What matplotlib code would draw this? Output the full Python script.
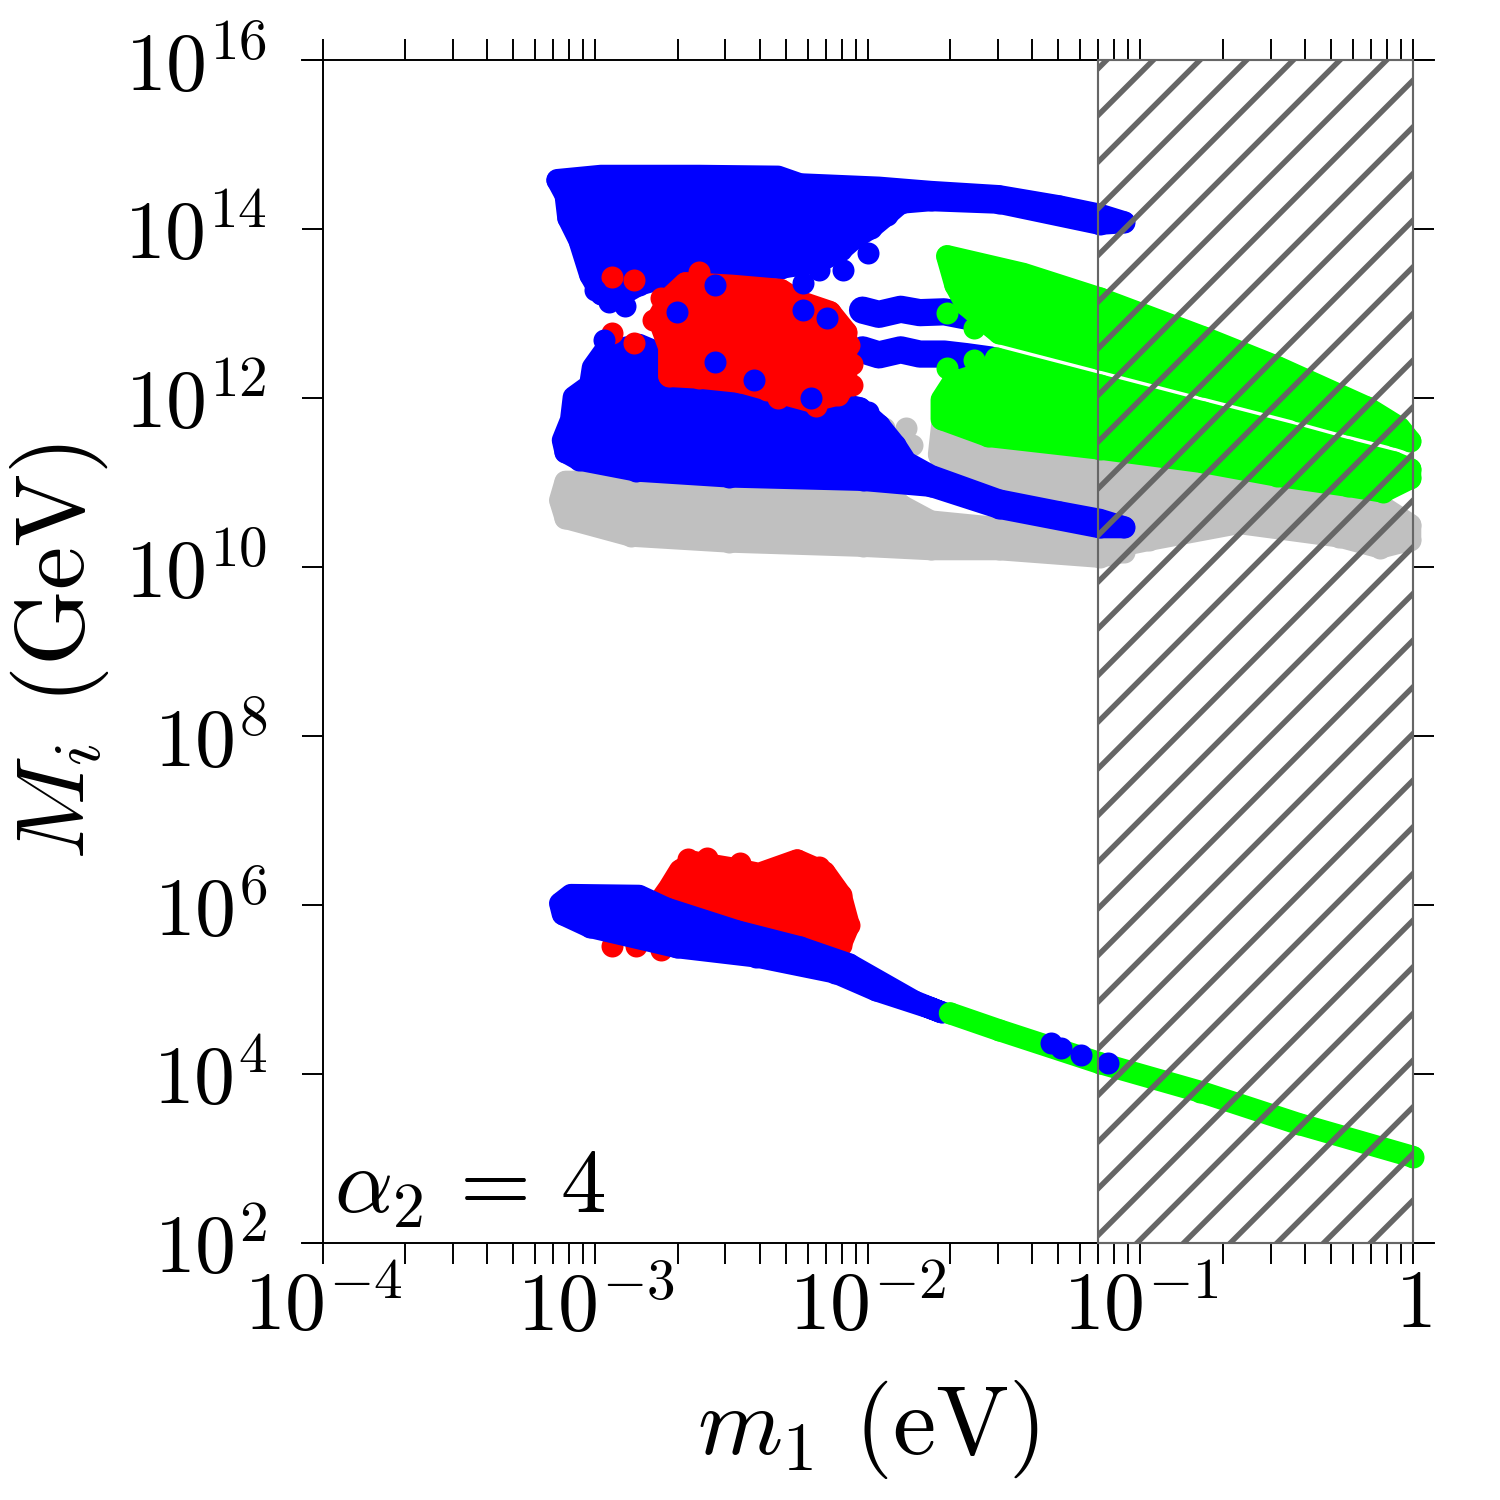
import numpy as np
import matplotlib
matplotlib.use('Agg')
import matplotlib.pyplot as plt

plt.rcParams['font.family'] = 'serif'
plt.rcParams['font.serif'] = ['cmr10']
plt.rcParams['mathtext.fontset'] = 'cm'
plt.rcParams['axes.formatter.use_mathtext'] = True
plt.rcParams['hatch.linewidth'] = 1.4

# all regions below are given as log10(m1 / eV), log10(M_i / GeV),
# outlines traced through the centres of the outermost dots
blue_top_lx = [-3.14, -2.98, -2.62, -2.33, -2.25, -1.96, -1.77, -1.52, -1.30, -1.15, -1.06, -1.15, -1.52, -1.77, -1.88,
               -1.93, -1.99, -2.05, -2.10, -2.18, -2.32, -2.62, -2.84, -2.91, -2.98, -3.02, -3.06, -3.10, -3.11]
blue_top_ly = [14.58, 14.63, 14.63, 14.62, 14.53, 14.49, 14.44, 14.39, 14.27, 14.17, 14.08, 14.06, 14.31, 14.34, 14.31,
               14.17, 14.01, 13.89, 13.75, 13.61, 13.54, 13.54, 13.34, 13.21, 13.23, 13.46, 13.87, 14.13, 14.40]

stripe_lx = [-2.02, -1.96, -1.88, -1.81, -1.72, -1.64, -1.55]
stripe_up_ly = [13.04, 12.99, 13.05, 13.01, 13.02, 12.97, 12.95]
stripe_lo_ly = [12.57, 12.51, 12.57, 12.52, 12.52, 12.49, 12.45]

blue_mid_lx = [-2.97, -2.84, -2.62, -2.25, -2.03, -1.96, -1.90, -1.86, -1.77, -1.52, -1.30, -1.15, -1.06,
               -1.15, -1.52, -1.77, -2.02, -2.51, -2.85, -3.06, -3.11, -3.12, -3.09, -3.08, -3.02, -3.01]
blue_mid_ly = [12.54, 12.63, 12.33, 12.04, 11.88, 11.68, 11.44, 11.24, 11.08, 10.79, 10.65, 10.56, 10.47,
               10.47, 10.70, 10.96, 11.03, 11.07, 11.14, 11.27, 11.36, 11.50, 11.74, 12.01, 12.15, 12.36]

blue_dots_lx = [-3.00, -2.95, -2.89, -2.97, -2.56, -2.24, -2.18, -2.09, -2.00, -2.70, -2.56, -2.42, -2.21, -2.24, -2.15, -2.00]
blue_dots_ly = [13.28, 13.14, 13.09, 12.69, 13.34, 13.36, 13.52, 13.52, 13.72, 13.02, 12.43, 12.21, 12.00, 13.04, 12.95, 11.83]

red_top_lx = [-2.67, -2.50, -2.32, -2.25, -2.14, -2.08, -2.08, -2.11, -2.21, -2.37, -2.47, -2.62, -2.73, -2.73, -2.77, -2.73]
red_top_ly = [13.36, 13.33, 13.28, 13.14, 13.02, 12.78, 12.15, 12.04, 11.96, 12.10, 12.19, 12.24, 12.26, 12.60, 12.95, 13.18]
red_top_dots_lx = [-2.94, -2.86, -2.94, -2.86, -2.07, -2.62, -2.76, -2.79, -2.06, -2.06, -2.19, -2.33]
red_top_dots_ly = [13.43, 13.40, 12.77, 12.65, 12.63, 13.49, 13.18, 12.92, 12.40, 12.15, 11.90, 12.00]

gray_low_lx = [-3.11, -1.96, -1.88, -1.77, -1.52, -1.15, -1.06, -1.15, -1.52, -1.77, -2.02, -2.51, -2.87, -3.11, -3.13]
gray_low_ly = [11.01, 11.01, 10.73, 10.54, 10.46, 10.27, 10.18, 10.12, 10.21, 10.21, 10.25, 10.30, 10.37, 10.58, 10.79]

gray_right_lx = [-1.72, -1.66, -1.52, -1.15, -0.78, -0.42, -0.12, -0.01, -0.01, -0.12, -0.27, -0.64, -0.97, -1.06,
                 -1.15, -1.52, -1.70, -1.74]
gray_right_ly = [11.92, 11.74, 11.39, 11.21, 11.05, 10.85, 10.73, 10.50, 10.32, 10.23, 10.36, 10.52, 10.32, 10.26,
                 10.44, 10.79, 11.05, 11.33]
gray_dots_lx = [-1.94, -1.86, -1.84]
gray_dots_ly = [11.65, 11.64, 11.44]

green_top_lx = [-1.71, -1.43, -1.15, -0.77, -0.50, -0.17, -0.05, -0.01, -0.07, -0.24, -0.42, -0.77, -1.15, -1.52,
                -1.55, -1.64, -1.68]
green_top_ly = [13.68, 13.47, 13.18, 12.72, 12.37, 11.89, 11.65, 11.49, 11.55, 11.69, 11.85, 12.14, 12.46, 12.77,
                12.85, 13.10, 13.34]
green_mid_lx = [-1.53, -1.15, -0.77, -0.42, -0.24, -0.07, -0.01, -0.01, -0.11, -0.24, -0.50, -0.77, -1.15, -1.56,
                -1.73, -1.73, -1.69, -1.55]
green_mid_ly = [12.47, 12.15, 11.83, 11.54, 11.38, 11.24, 11.16, 11.05, 10.89, 10.96, 11.08, 11.24, 11.40, 11.55,
                11.75, 11.98, 12.18, 12.33]
green_dots_lx = [-1.71, -1.61, -1.71, -1.61]
green_dots_ly = [13.01, 12.83, 12.36, 12.45]

green_line_lx = [-1.70, -1.52, -1.15, -0.78, -0.42, 0.00]
green_line_ly = [4.72, 4.52, 4.13, 3.79, 3.41, 3.02]
blue_on_green_lx = [-1.33, -1.29, -1.22, -1.12]
blue_on_green_ly = [4.37, 4.31, 4.23, 4.13]

blue_low_lx = [-3.13, -3.09, -2.84, -2.74, -2.48, -2.25, -2.07, -1.83, -1.73, -1.77, -1.97, -2.12, -2.41, -2.70, -3.02, -3.12]
blue_low_ly = [6.02, 6.12, 6.11, 5.96, 5.69, 5.50, 5.30, 4.86, 4.73, 4.78, 4.99, 5.20, 5.39, 5.50, 5.74, 5.89]

red_low_lx = [-2.73, -2.69, -2.64, -2.51, -2.40, -2.26, -2.16, -2.10, -2.07, -2.10, -2.40, -2.69, -2.80]
red_low_ly = [6.20, 6.41, 6.51, 6.44, 6.37, 6.53, 6.39, 6.12, 5.76, 5.53, 5.59, 5.82, 5.88]
red_low_dots_lx = [-2.94, -2.85, -2.76, -2.59, -2.31, -2.47, -2.18, -2.66, -2.12]
red_low_dots_ly = [5.52, 5.52, 5.47, 6.56, 6.46, 6.50, 6.45, 6.55, 6.20]

xticks = [1e-4, 1e-3, 1e-2, 1e-1, 1.0]
xticklabels = [r'$10^{-4}$', r'$10^{-3}$', r'$10^{-2}$', r'$10^{-1}$', r'$1$']
yticks = [1e2, 1e4, 1e6, 1e8, 1e10, 1e12, 1e14, 1e16]
yticklabels = [r'$10^{2}$', r'$10^{4}$', r'$10^{6}$', r'$10^{8}$', r'$10^{10}$', r'$10^{12}$', r'$10^{14}$', r'$10^{16}$']

excluded_m1 = 0.07

BLUE = '#0000ff'
RED = '#ff0000'
GREEN = '#00ff00'
GRAY = '#c0c0c0'
DOT = 5.66  # dot diameter in points


def blob(ax, lx, ly, color, z):
    x = 10.0 ** np.array(lx)
    y = 10.0 ** np.array(ly)
    ax.fill(x, y, facecolor=color, edgecolor=color, lw=DOT, joinstyle='round', zorder=z, clip_on=False)
    ax.scatter(x, y, s=DOT ** 2, c=color, lw=0, zorder=z, clip_on=False)


def strip(ax, lx, ly, color, z, w=DOT):
    x = 10.0 ** np.array(lx)
    y = 10.0 ** np.array(ly)
    ax.plot(x, y, color=color, lw=w, solid_capstyle='round', solid_joinstyle='round', zorder=z, clip_on=False)
    ax.scatter(x, y, s=DOT ** 2, c=color, lw=0, zorder=z, clip_on=False)


def dots(ax, lx, ly, color, z):
    ax.scatter(10.0 ** np.array(lx), 10.0 ** np.array(ly), s=DOT ** 2, c=color, lw=0, zorder=z, clip_on=False)


fig = plt.figure(figsize=(5.3572, 5.3572), dpi=280)
ax = fig.add_axes([0.2153, 0.1713, 0.7267, 0.7887])
ax.set_xscale('log')
ax.set_yscale('log')

blob(ax, gray_low_lx, gray_low_ly, GRAY, 1)
blob(ax, gray_right_lx, gray_right_ly, GRAY, 1)
dots(ax, gray_dots_lx, gray_dots_ly, GRAY, 1)

blob(ax, blue_top_lx, blue_top_ly, BLUE, 2)
blob(ax, blue_mid_lx, blue_mid_ly, BLUE, 2)
strip(ax, stripe_lx, stripe_up_ly, BLUE, 2, w=7.0)
strip(ax, stripe_lx, stripe_lo_ly, BLUE, 2, w=7.0)

blob(ax, red_top_lx, red_top_ly, RED, 3)
dots(ax, red_top_dots_lx, red_top_dots_ly, RED, 3)
dots(ax, blue_dots_lx, blue_dots_ly, BLUE, 3.5)

blob(ax, red_low_lx, red_low_ly, RED, 3)
dots(ax, red_low_dots_lx, red_low_dots_ly, RED, 3)
blob(ax, blue_low_lx, blue_low_ly, BLUE, 3.6)

blob(ax, green_top_lx, green_top_ly, GREEN, 4)
blob(ax, green_mid_lx, green_mid_ly, GREEN, 4)
dots(ax, green_dots_lx, green_dots_ly, GREEN, 4)
strip(ax, green_line_lx, green_line_ly, GREEN, 4)
dots(ax, blue_on_green_lx, blue_on_green_ly, BLUE, 4.5)

# excluded region
ax.axvspan(excluded_m1, 1.0, facecolor='none', edgecolor='#666666', hatch='//', lw=0.55, zorder=6, clip_on=False)

ax.set_xlim(1e-4, 1.0)
ax.set_ylim(1e2, 1e16)
ax.set_xticks(xticks, xticklabels)
ax.xaxis.set_minor_locator(matplotlib.ticker.LogLocator(base=10, subs=np.arange(2, 10), numticks=20))
ax.xaxis.set_minor_formatter(matplotlib.ticker.NullFormatter())
ax.set_yticks(yticks, yticklabels)
ax.yaxis.set_minor_locator(matplotlib.ticker.NullLocator())
ax.tick_params(which='both', direction='out', length=5.4, width=0.5, top=True, right=True, labelsize=21)
ax.tick_params(axis='x', pad=1.5)
ax.tick_params(axis='y', pad=9)

ax.spines['right'].set_visible(False)
for s in ('top', 'bottom'):
    ax.spines[s].set_bounds(10 ** -4.077, 10 ** 0.077)
for s in ax.spines.values():
    s.set_linewidth(0.5)

ax.set_xlabel(r'$m_1$ (eV)', fontsize=25)
ax.set_ylabel(r'$M_i$ (GeV)', fontsize=25)
ax.xaxis.set_label_coords(0.5, -0.114)
ax.yaxis.set_label_coords(-0.194, 0.5)
ax.text(0.01, 0.026, r'$\alpha_2\,=\,4$', transform=ax.transAxes, fontsize=23.5, va='baseline', ha='left')

fig.savefig('out.png', dpi=280)
